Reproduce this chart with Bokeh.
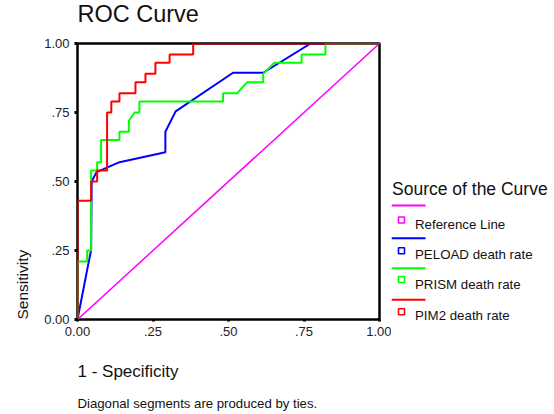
from bokeh.plotting import figure
from bokeh.models import FixedTicker, Range1d, Title
from bokeh.layouts import row
from bokeh.core.properties import value
from bokeh.embed import file_html
from bokeh.resources import INLINE

FONT = "Liberation Sans"

# ---- data ----
ref_fpr = [0.0, 1.0]
ref_tpr = [0.0, 1.0]

peload_fpr = [0.0, 0.032, 0.045, 0.047, 0.063, 0.139, 0.291, 0.291, 0.325, 0.515, 0.615, 0.772, 1.0]
peload_tpr = [0.0, 0.18, 0.25, 0.50, 0.534, 0.57, 0.606, 0.68, 0.754, 0.894, 0.894, 1.0, 1.0]

prism_fpr = [0.0, 0.0, 0.032, 0.032, 0.045, 0.045, 0.065, 0.065, 0.078, 0.078,
             0.139, 0.139, 0.17, 0.17, 0.189, 0.205, 0.205,
             0.482, 0.482, 0.529, 0.562, 0.615, 0.615, 0.652, 0.742, 0.742, 0.821, 0.821, 1.0]
prism_tpr = [0.0, 0.21, 0.21, 0.25, 0.25, 0.54, 0.54, 0.57, 0.57, 0.65,
             0.65, 0.68, 0.68, 0.72, 0.75, 0.75, 0.79,
             0.79, 0.82, 0.82, 0.86, 0.86, 0.89, 0.93, 0.93, 0.96, 0.96, 1.0, 1.0]

pim2_fpr = [0.0, 0.0, 0.045, 0.045, 0.065, 0.065, 0.098, 0.098, 0.112, 0.112, 0.139, 0.139,
            0.192, 0.192, 0.225, 0.225, 0.258, 0.258, 0.305, 0.305, 0.383, 0.383, 1.0]
pim2_tpr = [0.0, 0.43, 0.43, 0.50, 0.50, 0.54, 0.54, 0.75, 0.75, 0.79, 0.79, 0.82,
            0.82, 0.86, 0.86, 0.89, 0.89, 0.93, 0.93, 0.96, 0.96, 1.0, 1.0]

tick_values = [0.0, 0.25, 0.5, 0.75, 1.0]
tick_labels = ["0.00", ".25", ".50", ".75", "1.00"]

series_names = ["Reference Line", "PELOAD death rate", "PRISM death rate", "PIM2 death rate"]
series_colors = ["#FF00FF", "#0000FF", "#00FF00", "#FF0000"]

FW, FH = 302, 276
LEFT, TOP, RIGHT, BOTTOM = 77, 43, 12, 95
TOTAL_W = 554
TOTAL_H = TOP + FH + BOTTOM

def title(text, size, standoff, align="left", valign="bottom"):
    return Title(text=text, align=align, vertical_align=valign, text_font=FONT,
                 text_font_size=size, text_font_style="normal",
                 text_color="#111111", standoff=standoff)

# ---- main figure ----
p = figure(frame_width=FW, frame_height=FH,
           min_border_left=LEFT, min_border_right=RIGHT,
           min_border_top=TOP, min_border_bottom=BOTTOM,
           x_range=Range1d(0, 1), y_range=Range1d(0, 1),
           output_backend="svg", toolbar_location=None)
p.frame_align = False
p.title = None
p.grid.visible = False
p.outline_line_color = "black"
p.outline_line_width = 2.5
p.background_fill_color = "white"
p.border_fill_color = "white"

# spacer then chart title (stacked outward from the frame)
p.add_layout(title(" ", "2px", 10.5), "above")
p.add_layout(title("ROC Curve", "23.5px", 0, valign="top"), "above")

for ax in (p.xaxis[0], p.yaxis[0]):
    ax.ticker = FixedTicker(ticks=tick_values)
    ax.major_label_overrides = dict(zip(tick_values, tick_labels))
    ax.axis_line_color = None
    ax.minor_tick_line_color = None
    ax.major_tick_in = 0
    ax.major_tick_line_color = "black"
    ax.major_label_text_font = FONT
    ax.major_label_text_font_size = "13px"
    ax.major_label_text_color = "#222222"

p.xaxis[0].major_tick_out = 2
p.xaxis[0].major_tick_line_width = 3
p.xaxis[0].major_label_standoff = 5
p.yaxis[0].major_tick_out = 3
p.yaxis[0].major_tick_line_width = 3
p.yaxis[0].major_label_standoff = 5

p.add_layout(title("1 - Specificity", "17px", 43), "below")
p.add_layout(title("Diagonal segments are produced by ties.", "13.2px", -17), "below")
p.add_layout(title("Sensitivity", "15.5px", 22), "left")

curves = [(ref_fpr, ref_tpr, 1.5), (peload_fpr, peload_tpr, 2),
          (prism_fpr, prism_tpr, 2), (pim2_fpr, pim2_tpr, 2)]
for (xs, ys, lw), col in zip(curves, series_colors):
    p.line(xs, ys, line_color=col, line_width=lw)

# ---- legend panel: independent frame, range in page pixels ----
x0 = LEFT + FW + RIGHT
q = figure(frame_width=TOTAL_W - x0, frame_height=TOTAL_H,
           min_border_left=0, min_border_right=0,
           min_border_top=0, min_border_bottom=0, min_border=0,
           x_range=Range1d(x0, TOTAL_W), y_range=Range1d(TOTAL_H, 0),
           x_axis_location=None, y_axis_location=None,
           output_backend="svg", toolbar_location=None)
q.frame_align = False
q.title = None
q.grid.visible = False
q.outline_line_color = None
q.background_fill_color = "white"
q.border_fill_color = "white"

q.text([391.5], [188], text=["Source of the Curve"], text_font=value(FONT),
       text_font_size="17.5px", text_color="#111111",
       text_align="left", text_baseline="alphabetic")

sw_x0, sw_x1 = 391, 425
sw_y = [205, 237.7, 267.7, 299.3]
sq_x = 401
sq_y = [219.5, 250.3, 279, 311.3]
lab_x = 414.5
lab_y = [223.5, 253.5, 283.5, 315]

q.segment(x0=[sw_x0] * 4, y0=sw_y, x1=[sw_x1] * 4, y1=sw_y,
          line_color=series_colors, line_width=2)
q.scatter([sq_x] * 4, sq_y, marker="square", size=6, fill_color=None,
          line_color=series_colors, line_width=1.6)
q.text([lab_x] * 4, lab_y, text=series_names, text_font=value(FONT),
       text_font_size="13.3px", text_color="#111111",
       text_align="left", text_baseline="alphabetic")

layout = row(p, q)
open("out.html", "w").write(file_html(layout, INLINE))
